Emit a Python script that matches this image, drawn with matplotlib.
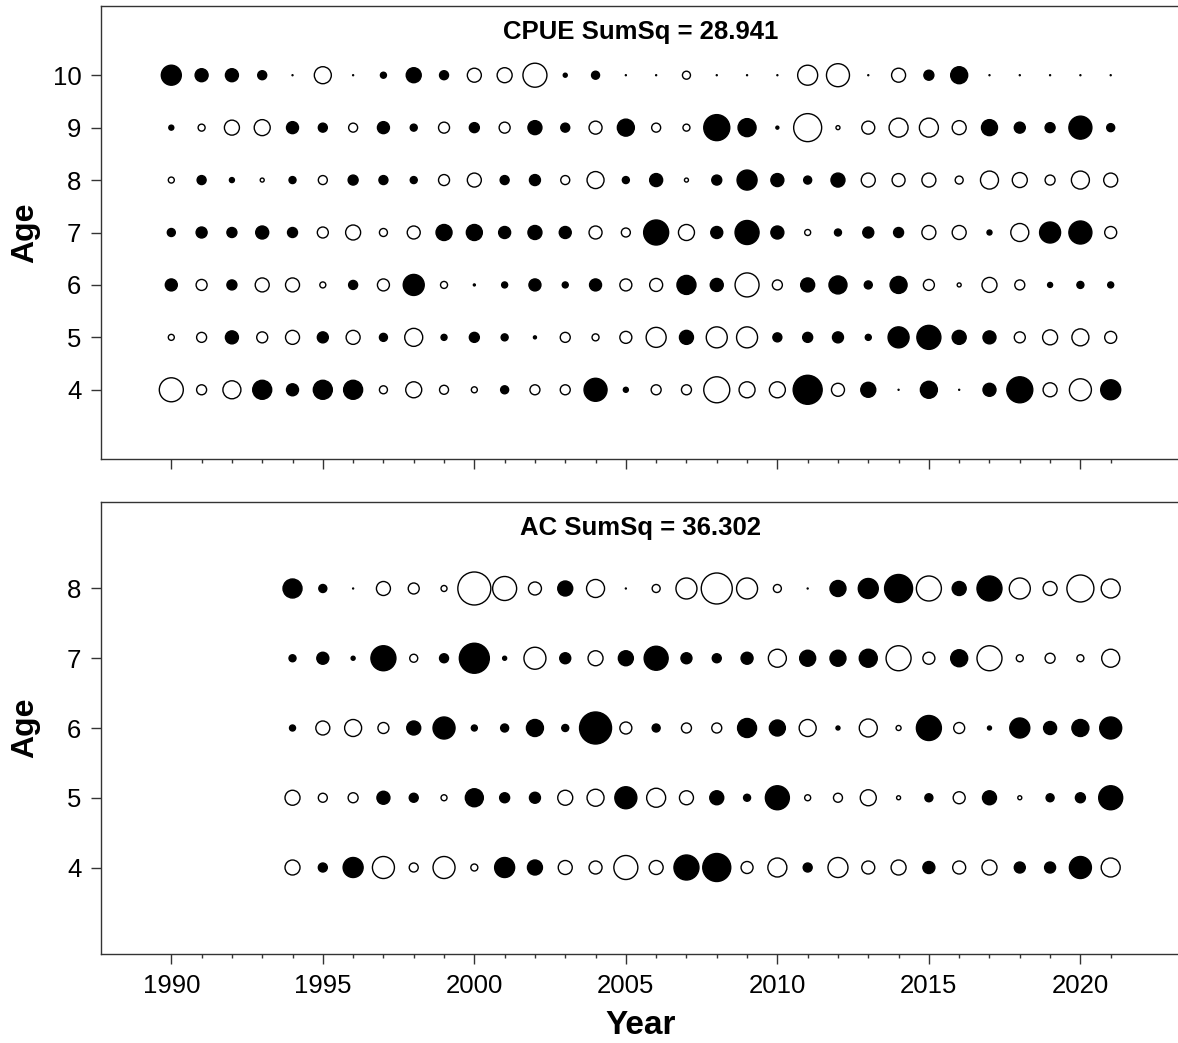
import numpy as np
import matplotlib
matplotlib.use("Agg")
import matplotlib.pyplot as plt
from matplotlib.ticker import FixedLocator

plt.rcParams['font.family'] = ['Liberation Sans', 'DejaVu Sans']

# residuals (+ = filled, - = open)
cpue_years = list(range(1990, 2022))
cpue_ages = [4, 5, 6, 7, 8, 9, 10]
cpue_age4 = [-2.4, -1.0, -1.8, 1.9, 1.2, 1.9, 1.9, -0.8, -1.6, -0.9, -0.6, 0.8, -1.0, -1.0, 2.3, 0.5,
             -1.0, -1.0, -2.6, -1.6, -1.6, 2.9, -1.3, 1.5, 0.1, 1.7, 0.1, 1.3, 2.6, -1.4, -2.2, 2.0]
cpue_age5 = [-0.6, -1.0, 1.3, -1.1, -1.4, 1.1, -1.4, 0.8, -1.8, 0.6, 1.0, 0.7, 0.3, -1.0, -0.7, -1.2,
             -2.0, 1.4, -2.1, -2.1, 0.9, 1.0, 1.1, 0.6, 2.1, 2.4, 1.4, 1.3, -1.1, -1.5, -1.7, -1.2]
cpue_age6 = [1.2, -1.1, 1.0, -1.4, -1.4, -0.6, 0.9, -1.2, 2.1, -0.7, 0.2, 0.6, 1.2, 0.6, 1.2, -1.2,
             -1.3, 1.9, 1.3, -2.4, -1.0, 1.4, 1.8, 0.8, 1.7, -1.1, -0.4, -1.5, -1.0, 0.5, 0.7, 0.6]
cpue_age7 = [0.8, 1.1, 1.0, 1.3, 1.0, -1.1, -1.5, -0.8, -1.3, 1.6, 1.6, 1.2, 1.4, 1.2, -1.3, -0.9,
             2.5, -1.6, 1.2, 2.4, 1.3, -0.6, 0.7, 1.1, 1.0, -1.4, -1.4, 0.5, -1.8, 2.1, 2.3, -1.2]
cpue_age8 = [-0.6, 0.9, 0.5, -0.4, 0.7, -0.9, 1.0, 0.9, 0.7, -1.1, -1.4, 0.9, 1.1, -0.9, -1.7, 0.7,
             1.3, -0.4, 1.0, 2.0, 1.3, 0.8, 1.4, -1.4, -1.3, -1.4, -0.8, -1.8, -1.5, -1.0, -1.8, -1.4]
cpue_age9 = [0.5, -0.7, -1.5, -1.6, 1.2, 0.9, -0.9, 1.2, 0.7, -1.1, 1.0, -1.1, 1.4, 0.9, -1.3, 1.7,
             -0.9, -0.7, 2.6, 1.8, 0.3, -2.8, -0.4, -1.3, -1.9, -1.9, -1.4, 1.6, 1.1, 1.0, 2.3, 0.8]
cpue_age10 = [2.0, 1.3, 1.3, 0.9, 0.1, -1.7, 0.1, 0.6, 1.5, 0.9, -1.4, -1.5, -2.4, 0.4, 0.8, 0.1,
              0.1, -0.8, 0.1, 0.1, 0.1, -2.0, -2.3, 0.1, -1.4, 1.0, 1.7, 0.1, 0.1, 0.1, 0.1, 0.1]

ac_years = list(range(1994, 2022))
ac_ages = [4, 5, 6, 7, 8]
ac_age4 = [-1.5, 0.9, 2.0, -2.2, -0.9, -2.2, -0.7, 2.0, 1.5, -1.4, -1.3, -2.4, -1.4, 2.5,
           2.8, -1.2, -1.9, 0.9, -2.0, -1.3, -1.5, 1.2, -1.3, -1.5, 1.1, 1.1, 2.2, -1.9]
ac_age5 = [-1.5, -0.9, -1.0, 1.3, 0.9, -0.6, 1.8, 1.0, 1.1, -1.5, -1.7, 2.2, -1.9, -1.4,
           1.4, 0.7, 2.4, -0.6, -0.9, -1.6, -0.4, 0.8, -1.2, 1.4, -0.4, 0.8, 1.0, 2.4]
ac_age6 = [0.6, -1.4, -1.7, -1.1, 1.4, 2.2, 0.6, 0.8, 1.7, 0.7, 3.2, -1.2, 0.8, -1.0,
           -1.0, 1.9, 1.6, -1.7, 0.4, -1.8, -0.5, 2.5, -1.1, 0.4, 2.0, 1.3, 1.7, 2.2]
ac_age7 = [0.7, 1.2, 0.4, 2.5, -0.8, 0.9, 3.0, 0.4, -2.2, 1.1, -1.5, 1.5, 2.4, 1.1,
           0.9, 1.2, -1.8, 1.6, 1.6, 1.8, -2.5, -1.2, 1.7, -2.5, -0.7, -1.0, -0.7, -1.8]
ac_age8 = [1.9, 0.8, 0.1, -1.4, -1.1, -0.6, -3.3, -2.4, -1.3, 1.5, -1.8, 0.1, -0.8, -2.1,
           -3.1, -2.1, -0.8, 0.1, 1.6, 2.0, 2.8, -2.5, 1.4, 2.5, -2.1, -1.4, -2.7, -1.9]

cpue_resid = np.array([cpue_age4, cpue_age5, cpue_age6, cpue_age7, cpue_age8, cpue_age9, cpue_age10])
ac_resid = np.array([ac_age4, ac_age5, ac_age6, ac_age7, ac_age8])

W, H = 1178, 1043
fig = plt.figure(figsize=(W / 100, H / 100), dpi=100)

ax_left = 101 / W
ax_width = 1080 / W
ax1 = fig.add_axes([ax_left, (H - 459) / H, ax_width, 453 / H])
ax2 = fig.add_axes([ax_left, (H - 954) / H, ax_width, 452 / H])


def bubbles(ax, years, ages, resid, title, ylim):
    yy, aa = np.meshgrid(years, ages)
    r = resid.ravel()
    sizes = (7.2 * np.abs(r)) ** 2
    faces = np.where(r > 0, 'black', 'white')
    ax.scatter(yy.ravel(), aa.ravel(), s=sizes, c=faces, edgecolors='black',
               linewidths=1.0, zorder=3)
    ax.set_xlim(1987.68, 2023.32)
    ax.set_ylim(*ylim)
    ax.yaxis.set_major_locator(FixedLocator(ages))
    ax.set_xticks([1990, 1995, 2000, 2005, 2010, 2015, 2020])
    ax.xaxis.set_minor_locator(FixedLocator([y for y in range(1990, 2022) if y % 5]))
    ax.tick_params(axis='both', which='major', length=7.2, width=1.0, pad=7,
                   labelsize=18.5, color='#333333')
    ax.tick_params(axis='x', which='minor', length=3, width=1.0, color='#333333')
    for sp in ax.spines.values():
        sp.set_linewidth(1.0)
        sp.set_color('#333333')
    ax.text(0.5, 0.943, title, transform=ax.transAxes, ha='center', va='center',
            fontsize=18.5, fontweight='bold')


bubbles(ax1, cpue_years, cpue_ages, cpue_resid, 'CPUE SumSq = 28.941', (2.68, 11.32))
bubbles(ax2, ac_years, ac_ages, ac_resid, 'AC SumSq = 36.302', (2.76, 9.24))
ax1.tick_params(axis='x', labelbottom=False)

fig.text(25 / W, 1 - 232.5 / H, 'Age', rotation=90, ha='center', va='center',
         fontsize=23, fontweight='bold')
fig.text(25 / W, 1 - 728 / H, 'Age', rotation=90, ha='center', va='center',
         fontsize=23, fontweight='bold')
fig.text(641 / W, 1 - 1025 / H, 'Year', ha='center', va='center',
         fontsize=24, fontweight='bold')

fig.savefig('out.png', dpi=100)
